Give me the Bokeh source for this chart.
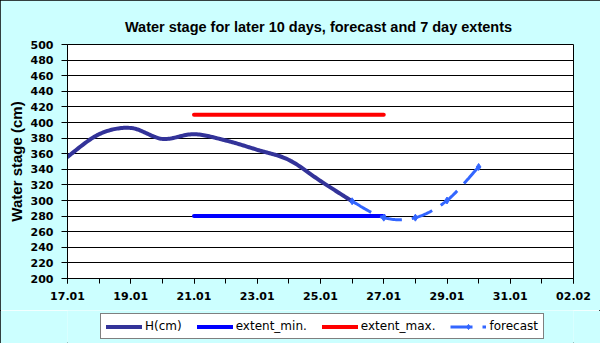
import numpy as np
from bokeh.plotting import figure
from bokeh.layouts import column
from bokeh.models import FixedTicker, Legend, LegendItem, Range1d
from bokeh.embed import file_html
from bokeh.resources import INLINE

# ---- data (day of year: 17 = 17.01, 33 = 02.02) ----
h_days = [17, 18, 19, 20, 21, 22, 23, 24, 25, 26]
h_values = [356, 385, 393, 379, 385, 377, 365, 352, 325, 299]
fc_days = [26, 27, 28, 29, 30]
fc_values = [299, 278, 278, 300, 343]
ext_days = [21, 27]
ext_min_values = [280, 280]
ext_max_values = [410, 410]
x_tick_days = [17, 19, 21, 23, 25, 27, 29, 31, 33]
x_tick_labels = ["17.01", "19.01", "21.01", "23.01", "25.01", "27.01", "29.01", "31.01", "02.02"]
x_minor_days = list(range(17, 34))
y_ticks = list(range(200, 501, 20))
legend_labels = ["H(cm)", "extent_min.", "extent_max.", "forecast"]

BG = "#CCFFFF"
C_H, C_MIN, C_MAX, C_FC = "#333399", "#0000FF", "#FF0000", "#3366FF"


def smooth(xs, ys, n=24):
    """Excel-style smoothed line rendering (Bezier through the data points)."""
    P = np.column_stack([np.asarray(xs, float), np.asarray(ys, float)])
    m = len(P)
    out = [P[0]]
    t = np.linspace(0, 1, n)[1:, None]
    for i in range(m - 1):
        p_prev = P[i - 1] if i > 0 else P[i]
        p_next = P[i + 2] if i + 2 < m else P[i + 1]
        c1 = P[i] + (P[i + 1] - p_prev) / 6.0
        c2 = P[i + 1] - (p_next - P[i]) / 6.0
        seg = ((1 - t) ** 3) * P[i] + 3 * ((1 - t) ** 2) * t * c1 + 3 * (1 - t) * t ** 2 * c2 + t ** 3 * P[i + 1]
        out.extend(seg)
    out = np.array(out)
    return out[:, 0], out[:, 1]


def draw_series(fig):
    hx, hy = smooth(h_days, h_values)
    r_h = fig.line(hx, hy, line_color=C_H, line_width=4, line_cap="round", line_join="round")
    r_min = fig.line(ext_days, ext_min_values, line_color=C_MIN, line_width=4, line_cap="round")
    r_max = fig.line(ext_days, ext_max_values, line_color=C_MAX, line_width=4, line_cap="round")
    fx, fy = smooth(fc_days, fc_values)
    r_fc = fig.line(fx, fy, line_color=C_FC, line_width=3, line_dash="22 10")
    r_fcm = fig.scatter(fc_days, fc_values, marker="diamond", size=7, fill_color=C_FC, line_color=C_FC)
    return r_h, r_min, r_max, r_fc, r_fcm


p = figure(width=600, height=310,
           x_range=Range1d(17, 33), y_range=Range1d(200, 500),
           output_backend="svg", toolbar_location=None,
           min_border_left=67, min_border_right=27,
           min_border_top=44, min_border_bottom=32,
           background_fill_color="white", border_fill_color=BG,
           outline_line_color="black", outline_line_width=1,
           title="Water stage for later 10 days, forecast and 7 day  extents")

p.title.align = "center"
p.title.text_font = "Liberation Sans"
p.title.text_font_style = "bold"
p.title.text_font_size = "14.5px"
p.title.text_color = "black"
p.title.standoff = 19

# axes
p.xaxis.ticker = FixedTicker(ticks=x_tick_days, minor_ticks=x_minor_days)
p.xaxis.major_label_overrides = {d: lab for d, lab in zip(x_tick_days, x_tick_labels)}
p.yaxis.ticker = FixedTicker(ticks=y_ticks, minor_ticks=[])
for ax in (p.xaxis[0], p.yaxis[0]):
    ax.axis_line_color = "black"
    ax.major_tick_line_color = "black"
    ax.minor_tick_line_color = "black"
    ax.major_tick_in = 0
    ax.minor_tick_in = 0
    ax.major_label_text_font = "DejaVu Sans"
    ax.major_label_text_font_style = "bold"
    ax.major_label_text_font_size = "11px"
    ax.major_label_text_color = "black"
    ax.major_label_standoff = 8
p.xaxis.major_tick_out = 5
p.xaxis.minor_tick_out = 5
p.yaxis.major_tick_out = 6
p.yaxis.minor_tick_out = 0

p.yaxis.axis_label = "Water stage (cm)"
p.yaxis.axis_label_text_font = "Liberation Sans"
p.yaxis.axis_label_text_font_style = "bold"
p.yaxis.axis_label_text_font_size = "15px"
p.yaxis.axis_label_text_color = "black"
p.yaxis.axis_label_standoff = 3

p.xgrid.visible = False
p.ygrid.grid_line_color = "black"
p.ygrid.grid_line_width = 1
p.ygrid.grid_line_alpha = 1

draw_series(p)

# ---- legend strip (separate figure below the chart; its own series stay out of view) ----
p2 = figure(width=600, height=33, x_range=Range1d(17, 33), y_range=Range1d(1000, 1001),
            output_backend="svg", toolbar_location=None,
            x_axis_location=None, y_axis_location=None,
            min_border=0, min_border_left=0, min_border_right=0,
            min_border_top=0, min_border_bottom=0,
            background_fill_color=BG, border_fill_color=BG, outline_line_color=None)
p2.grid.visible = False
l_h, l_min, l_max, l_fc, l_fcm = draw_series(p2)

legend = Legend(items=[
    LegendItem(label=legend_labels[0], renderers=[l_h]),
    LegendItem(label=legend_labels[1], renderers=[l_min]),
    LegendItem(label=legend_labels[2], renderers=[l_max]),
    LegendItem(label=legend_labels[3], renderers=[l_fc, l_fcm]),
], orientation="horizontal", location=(33, 4))
legend.padding = 5
legend.spacing = 15
legend.glyph_width = 36
legend.glyph_height = 13
legend.label_height = 13
legend.label_standoff = 3
legend.label_text_font = "DejaVu Sans"
legend.label_text_font_size = "12px"
legend.label_text_color = "black"
legend.border_line_color = "black"
legend.border_line_width = 1
legend.background_fill_color = "white"
legend.background_fill_alpha = 1
legend.margin = 0
p2.add_layout(legend, "center")

layout = column(p, p2, spacing=0,
                styles={"outline": "1px solid black", "outline-offset": "-1px"})
open("out.html", "w").write(file_html(layout, INLINE))
